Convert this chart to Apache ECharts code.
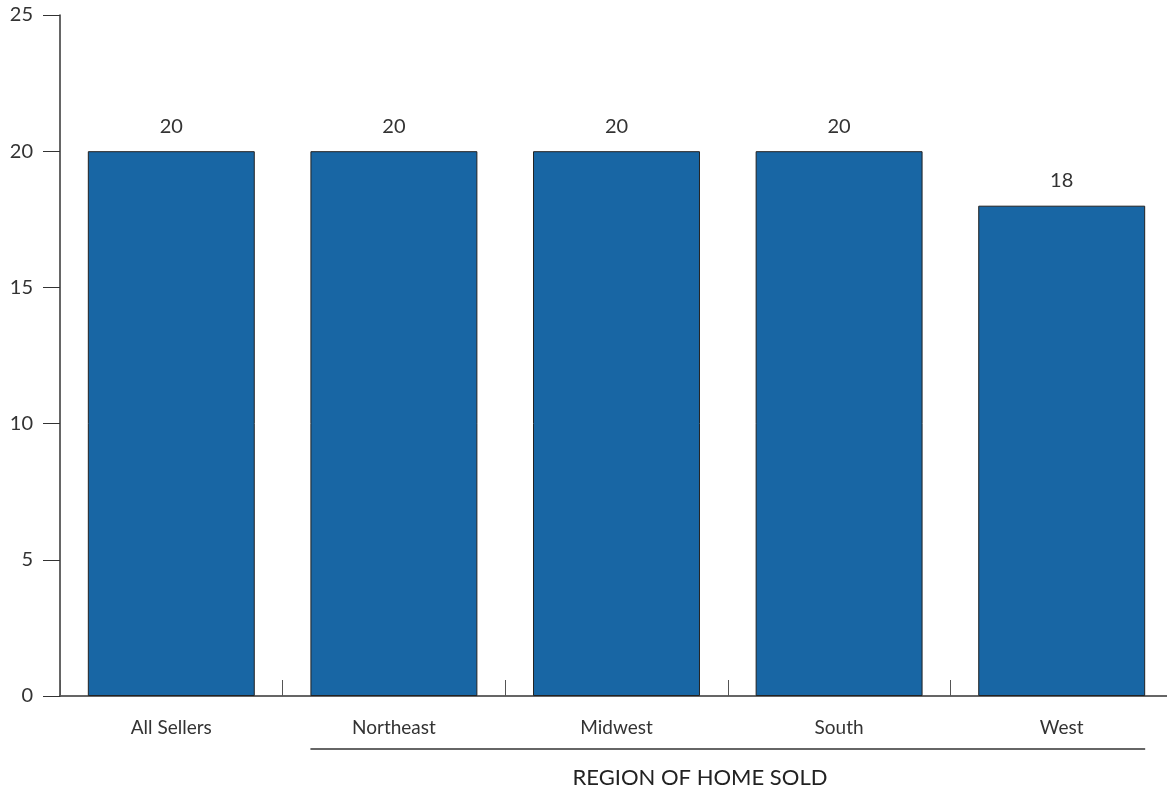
<!DOCTYPE html>
<html><head><meta charset="utf-8">
<script src="https://cdn.jsdelivr.net/npm/echarts@6/dist/echarts.min.js"></script>
<style>html,body{margin:0;padding:0;background:#fff;overflow:hidden}#c{width:1175px;height:792px}</style>
</head><body><div id="c"></div>
<script>
const categories = ['All Sellers', 'Northeast', 'Midwest', 'South', 'West'];
const values = [20, 20, 20, 20, 18];
const yTicks = [0, 5, 10, 15, 20, 25];
const groupTitle = 'REGION OF HOME SOLD';

const FONT = 'Lato';
const chart = echarts.init(document.getElementById('c'), null, {renderer: 'canvas'});
const option = {
  animation: false,
  grid: {left: 60, width: 1113, top: 15, height: 681, containLabel: false},
  xAxis: {
    type: 'category', data: categories,
    axisLine: {lineStyle: {color: '#333', width: 1.5}},
    axisTick: {show: true, inside: true, length: 16, alignWithLabel: false, lineStyle: {color: '#555', width: 1}},
    axisLabel: {color: '#333', fontFamily: FONT, fontSize: 19, margin: 22}
  },
  yAxis: {
    type: 'value', min: 0, max: 25, interval: 5,
    splitLine: {show: false},
    axisLine: {show: true, lineStyle: {color: '#333', width: 1.5}},
    axisTick: {show: true, length: 17, lineStyle: {color: '#333', width: 1}},
    axisLabel: {color: '#333', fontFamily: FONT, fontSize: 20, margin: 27,
      formatter: v => yTicks.includes(v) ? String(v) : ''}
  },
  series: [{
    type: 'bar', data: values, barCategoryGap: '25%',
    itemStyle: {color: '#1866a4', borderColor: '#222', borderWidth: 1},
    label: {show: true, position: 'top', distance: 15, color: '#333', fontFamily: FONT, fontSize: 20}
  }]
};
chart.setOption(option);

const c0 = chart.convertToPixel({xAxisIndex: 0}, 0);
const c1 = chart.convertToPixel({xAxisIndex: 0}, 1);
const cw = c1 - c0;
const half = cw * 0.75 / 2;
const xStart = c1 - half;
const xEnd = chart.convertToPixel({xAxisIndex: 0}, categories.length - 1) + half;
const y0 = chart.convertToPixel({yAxisIndex: 0}, 0);
chart.setOption({
  graphic: [
    {type: 'line', shape: {x1: xStart, y1: y0 + 53, x2: xEnd, y2: y0 + 53}, style: {stroke: '#333', lineWidth: 1.5}},
    {type: 'text', x: 700, y: y0 + 82, style: {text: groupTitle, fill: '#222', font: '22px "' + FONT + '"', textAlign: 'center', textVerticalAlign: 'middle'}}
  ]
});
</script></body></html>
